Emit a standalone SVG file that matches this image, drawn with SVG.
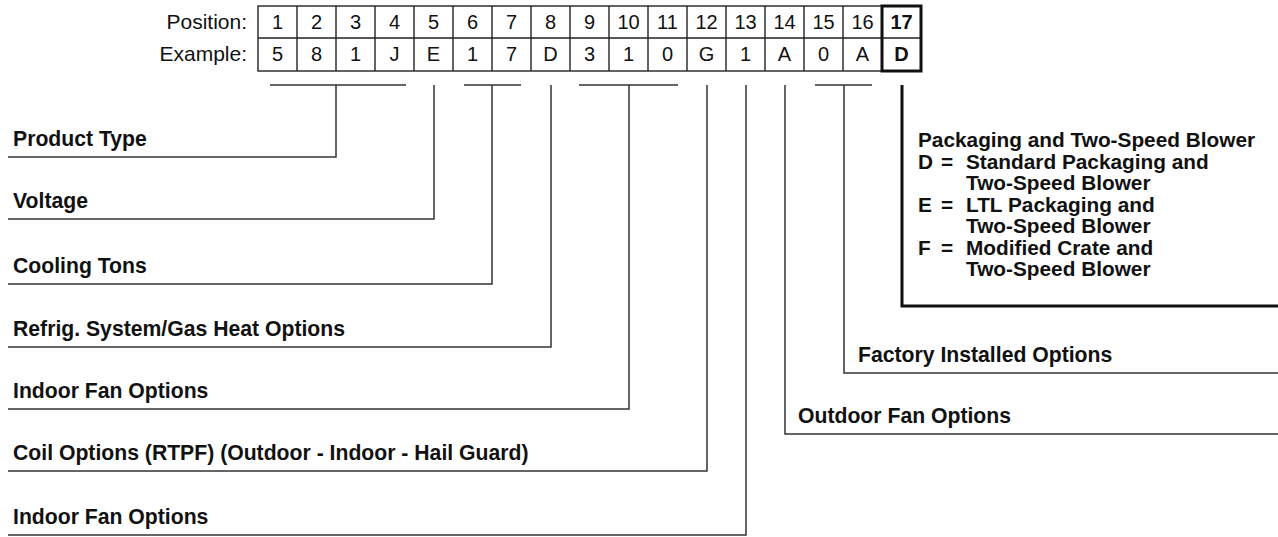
<svg xmlns="http://www.w3.org/2000/svg" width="1278" height="537" viewBox="0 0 1278 537">
<style>
text{font-family:"Liberation Sans",Arial,sans-serif;fill:#111;}
.cell{font-size:20px;text-anchor:middle;}
.hdr{font-size:21px;text-anchor:end;}
.lbl{font-size:21.2px;font-weight:bold;}
.box{font-size:20.8px;font-weight:bold;}
.b{font-weight:bold;}
.grid{fill:none;stroke:#222;stroke-width:1.4;}
.ln{fill:none;stroke:#333;stroke-width:1.5;}
.thick{fill:none;stroke:#111;stroke-width:3;}
</style>
<rect width="1278" height="537" fill="#fff"/>
<g id="table">
<text class="hdr" x="247" y="29">Position:</text>
<text class="hdr" x="247" y="61">Example:</text>
<rect class="grid" x="258" y="6" width="663" height="65"/>
<line class="grid" x1="258" y1="38" x2="921" y2="38"/>
<path class="grid" d="M297 6V71M336 6V71M375 6V71M414 6V71M453 6V71M492 6V71M531 6V71M570 6V71M609 6V71M648 6V71M687 6V71M726 6V71M765 6V71M804 6V71M843 6V71"/>
<rect class="thick" x="882" y="6" width="39" height="65" stroke-width="2.6"/>
<g class="cell">
<text class="cell" x="277.5" y="29">1</text><text class="cell" x="316.5" y="29">2</text><text class="cell" x="355.5" y="29">3</text><text class="cell" x="394.5" y="29">4</text><text class="cell" x="433.5" y="29">5</text><text class="cell" x="472.5" y="29">6</text><text class="cell" x="511.5" y="29">7</text><text class="cell" x="550.5" y="29">8</text><text class="cell" x="589.5" y="29">9</text><text class="cell" x="628.5" y="29">10</text><text class="cell" x="667.5" y="29">11</text><text class="cell" x="706.5" y="29">12</text><text class="cell" x="745.5" y="29">13</text><text class="cell" x="784.5" y="29">14</text><text class="cell" x="823.5" y="29">15</text><text class="cell" x="862.5" y="29">16</text><text class="cell b" x="901.5" y="29">17</text>
<text class="cell" x="277.5" y="61">5</text><text class="cell" x="316.5" y="61">8</text><text class="cell" x="355.5" y="61">1</text><text class="cell" x="394.5" y="61">J</text><text class="cell" x="433.5" y="61">E</text><text class="cell" x="472.5" y="61">1</text><text class="cell" x="511.5" y="61">7</text><text class="cell" x="550.5" y="61">D</text><text class="cell" x="589.5" y="61">3</text><text class="cell" x="628.5" y="61">1</text><text class="cell" x="667.5" y="61">0</text><text class="cell" x="706.5" y="61">G</text><text class="cell" x="745.5" y="61">1</text><text class="cell" x="784.5" y="61">A</text><text class="cell" x="823.5" y="61">0</text><text class="cell" x="862.5" y="61">A</text><text class="cell b" x="901.5" y="61">D</text>
</g>
</g>
<g id="connectors">
<path class="ln" d="M270 85H406M336 85V157H8"/>
<path class="ln" d="M434 85V219H8"/>
<path class="ln" d="M464 85H521M492 85V284H8"/>
<path class="ln" d="M551 85V347H8"/>
<path class="ln" d="M579 85H678M629 85V409H8"/>
<path class="ln" d="M707 85V471H8"/>
<path class="ln" d="M746 85V535H8"/>
<path class="ln" d="M785 85V434H1278"/>
<path class="ln" d="M815 85H872M844 85V373H1278"/>
<path class="thick" d="M902 85V306H1278"/>
</g>
<g id="n-product-type"><text class="lbl" x="13" y="146">Product Type</text></g>
<g id="n-voltage"><text class="lbl" x="13" y="208">Voltage</text></g>
<g id="n-cooling-tons"><text class="lbl" x="13" y="273">Cooling Tons</text></g>
<g id="n-refrig"><text class="lbl" x="13" y="336">Refrig. System/Gas Heat Options</text></g>
<g id="n-indoor-fan-1"><text class="lbl" x="13" y="398">Indoor Fan Options</text></g>
<g id="n-coil"><text class="lbl" x="13" y="460">Coil Options (RTPF) (Outdoor - Indoor - Hail Guard)</text></g>
<g id="n-indoor-fan-2"><text class="lbl" x="13" y="524">Indoor Fan Options</text></g>
<g id="n-outdoor-fan"><text class="lbl" x="798" y="423">Outdoor Fan Options</text></g>
<g id="n-factory"><text class="lbl" x="858" y="362">Factory Installed Options</text></g>
<g id="n-packaging">
<text class="box" x="918" y="147">Packaging and Two-Speed Blower</text>
<text class="box" x="918" y="169">D</text><text class="box" x="941" y="169">=</text><text class="box" x="966" y="169">Standard Packaging and</text>
<text class="box" x="966" y="190">Two-Speed Blower</text>
<text class="box" x="918" y="212">E</text><text class="box" x="941" y="212">=</text><text class="box" x="966" y="212">LTL Packaging and</text>
<text class="box" x="966" y="233">Two-Speed Blower</text>
<text class="box" x="918" y="255">F</text><text class="box" x="941" y="255">=</text><text class="box" x="966" y="255">Modified Crate and</text>
<text class="box" x="966" y="276">Two-Speed Blower</text>
</g>
</svg>
